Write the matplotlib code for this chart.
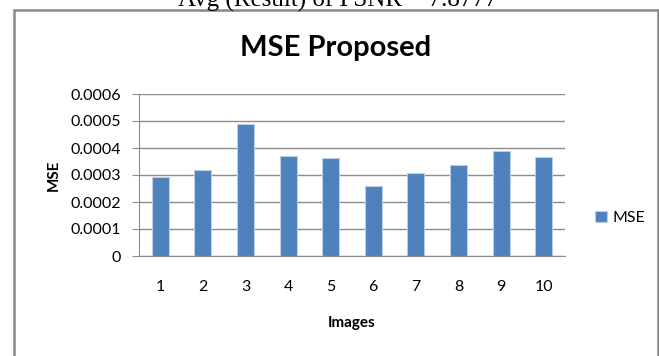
import matplotlib.pyplot as plt
from matplotlib.patches import Rectangle

# MSE per test image
images = ['1', '2', '3', '4', '5', '6', '7', '8', '9', '10']
mse = [0.000294, 0.000319, 0.000488, 0.000369, 0.000362,
       0.000258, 0.000307, 0.000337, 0.000390, 0.000366]
yticks = [0, 0.0001, 0.0002, 0.0003, 0.0004, 0.0005, 0.0006]
ytick_labels = ['0', '0.0001', '0.0002', '0.0003', '0.0004', '0.0005', '0.0006']

plt.rcParams['font.family'] = ['Lato', 'DejaVu Sans']

fig = plt.figure(figsize=(6.59, 3.56), dpi=100)
ax = fig.add_axes([139 / 659, 1 - 256 / 356, 426 / 659, 162 / 356])

# caption line above the chart box (partly cut off at the top edge)
fig.text(0.512, 1 - 7 / 356, 'Avg (Result) of PSNR = 7.8777', ha='center', va='baseline',
         fontsize=18, family='Liberation Serif', color='black')

# chart border
fig.patches.append(Rectangle((14 / 659, -0.05), 644 / 659, 1.05 - 10 / 356,
                             transform=fig.transFigure, fill=False,
                             edgecolor='#888888', linewidth=1.8))

x = list(range(len(images)))
ax.bar(x, mse, width=0.4, color='#4f81bd', edgecolor='#b9cde5', linewidth=0.8,
       label='MSE', zorder=3)

ax.set_xlim(-0.5, len(images) - 0.5)
ax.set_ylim(0, 0.0006)
ax.set_yticks(yticks)
ax.set_yticklabels(ytick_labels)
ax.set_xticks(x)
ax.set_xticklabels(images)
ax.grid(axis='y', color='#8c8c8c', linewidth=1.0, zorder=0)
ax.set_axisbelow(True)

for s in ['top', 'right']:
    ax.spines[s].set_visible(False)
ax.spines['left'].set_color('#8c8c8c')
ax.spines['bottom'].set_color('#8c8c8c')
ax.tick_params(axis='y', length=5, color='#8c8c8c', labelsize=11.5, pad=8)
ax.tick_params(axis='x', length=0, labelsize=11.5, pad=17)

fig.text(336 / 659, 1 - 48 / 356, 'MSE Proposed', ha='center', va='center',
         fontsize=21, fontweight='bold')
ax.set_xlabel('Images', fontsize=11, fontweight='bold', labelpad=16)
ax.set_ylabel('MSE', fontsize=11, fontweight='bold', labelpad=7)

fig.legend(loc='center left', bbox_to_anchor=(581 / 659, 1 - 218 / 356), frameon=False,
           fontsize=11.5, handlelength=0.7, handleheight=0.7, handletextpad=0.4)

fig.savefig('out.png', dpi=100)
